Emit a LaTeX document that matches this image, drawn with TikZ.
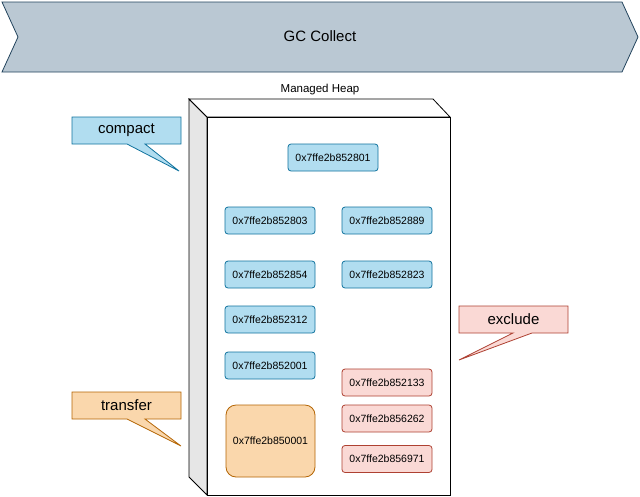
\documentclass[tikz,border=0pt]{standalone}
\usepackage{fontspec}
\setmainfont{Liberation Sans}
\definecolor{blueFill}{HTML}{B1DDF0}
\definecolor{blueLine}{HTML}{10739E}
\definecolor{redFill}{HTML}{FAD9D5}
\definecolor{redLine}{HTML}{AE4132}
\definecolor{orangeFill}{HTML}{FAD7AC}
\definecolor{orangeLine}{HTML}{B46504}
\definecolor{stepFill}{HTML}{BAC8D3}
\definecolor{stepLine}{HTML}{23445D}
\definecolor{sideGray}{HTML}{E6E6E6}

\begin{document}
\begin{tikzpicture}
  [x=1pt,y=-1pt,line width=0.8pt,
   every node/.style={font=\fontsize{10.5}{12}\selectfont,inner sep=0pt},
   blk/.style={rounded corners=3pt,minimum width=90pt,minimum height=27pt},
   blueblk/.style={blk,draw=blueLine,fill=blueFill},
   redblk/.style={blk,draw=redLine,fill=redFill},
   callfont/.style={font=\fontsize{15}{18}\selectfont}]
  \useasboundingbox (0,0) rectangle (640,496);

  % GC step banner
  \draw[draw=stepLine,fill=stepFill] (2,2) -- (622,2) -- (638,37) -- (622,72)
    -- (2,72) -- (18,37) -- cycle;
  \node[font=\fontsize{15}{18}\selectfont] (gc) at (320,36) {GC Collect};

  % managed heap (cube)
  \draw[fill=sideGray] (189,99) -- (207,117) -- (207,495) -- (189,477) -- cycle;
  \draw[fill=white] (189,99) -- (433,99) -- (450,117) -- (207,117) -- cycle;
  \draw[fill=white] (207,117) rectangle (450,495);
  \node[font=\fontsize{11.5}{13}\selectfont] (heap) at (320,90) {Managed Heap};

  % objects
  \foreach \name/\x/\y/\addr in {a/333/157.5/852801,b/270/220.5/852803,
      c/387/220.5/852889,d/270/274.5/852854,e/387/274.5/852823,
      f/270/319.5/852312,g/270/365.5/852001}
    \node[blueblk] (\name) at (\x,\y) {0x7ffe2b\addr};
  \foreach \name/\x/\y/\addr in {h/387/382.5/852133,i/387/418.5/856262,
      j/387/459/856971}
    \node[redblk] (\name) at (\x,\y) {0x7ffe2b\addr};
  \node[draw=orangeLine,fill=orangeFill,rounded corners=10pt,
    minimum width=89pt,minimum height=72pt] (k) at (270.5,441) {0x7ffe2b850001};

  % callouts
  \draw[draw=blueLine,fill=blueFill] (72,117) -- (181,117) -- (181,144) -- (145,144)
    -- (179,171) -- (127,144) -- (72,144) -- cycle;
  \node[callfont] (compact) at (126.5,130.5) {compact};

  \draw[draw=orangeLine,fill=orangeFill] (72,392) -- (181,392) -- (181,419) -- (145,419)
    -- (181,446) -- (127,419) -- (72,419) -- cycle;
  \node[callfont] (transfer) at (126.5,405.5) {transfer};

  \draw[draw=redLine,fill=redFill] (459,306) -- (568,306) -- (568,333) -- (532,333)
    -- (459,360) -- (513,333) -- (459,333) -- cycle;
  \node[callfont] (exclude) at (513.5,319.5) {exclude};
\end{tikzpicture}
\end{document}
